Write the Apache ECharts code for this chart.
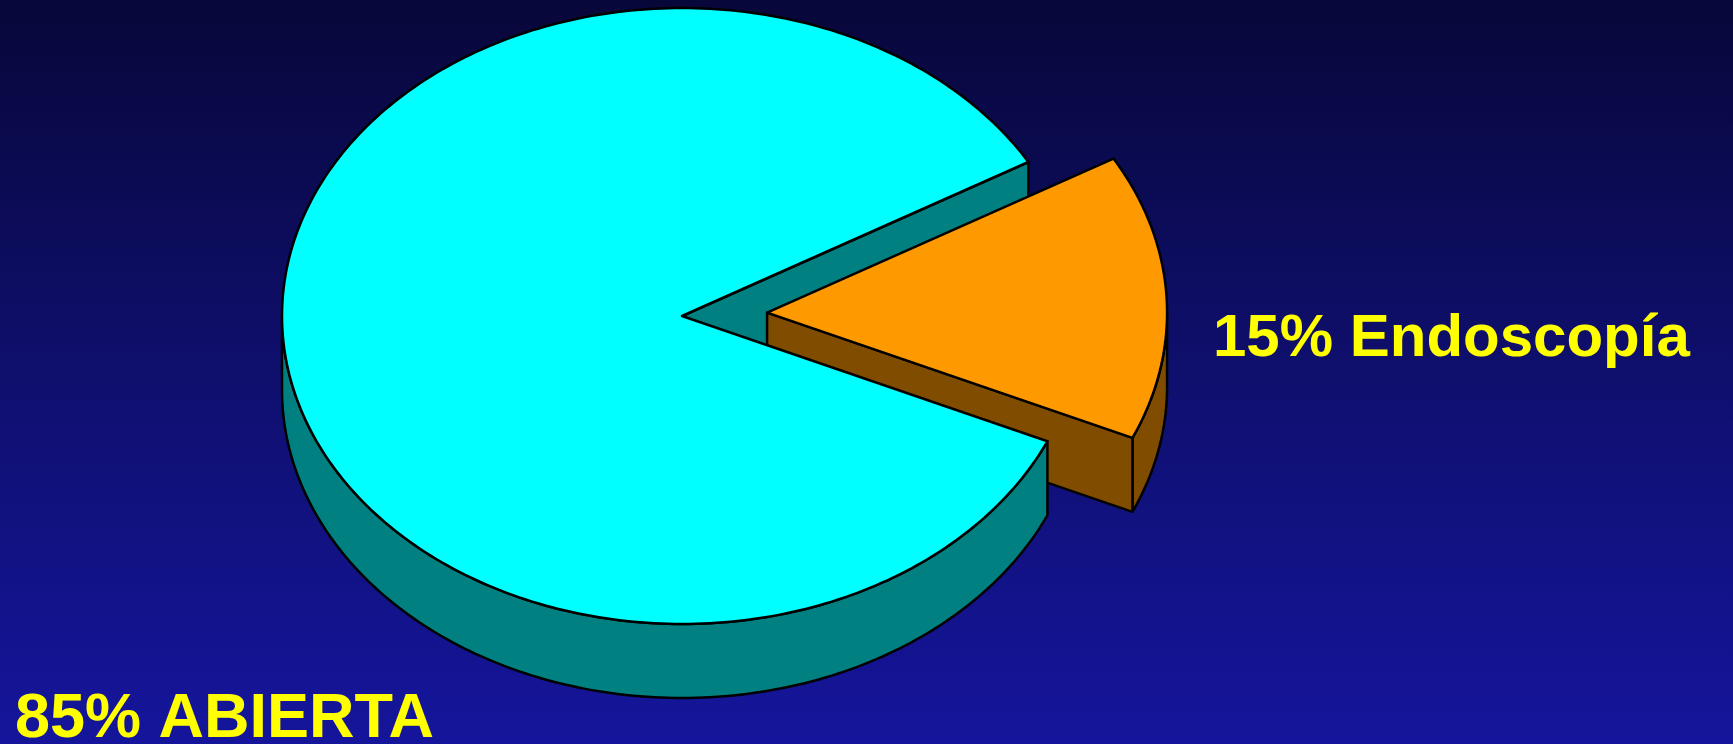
<!DOCTYPE html>
<html>
<head>
<meta charset="utf-8">
<script src="https://cdn.jsdelivr.net/npm/echarts@6/dist/echarts.min.js"></script>
<style>
html,body{margin:0;padding:0;background:#0b0b5a;}
#chart{width:1733px;height:744px;}
</style>
</head>
<body>
<div id="chart"></div>
<script>
// ---- data ----
const categories = ['Endoscopía', 'ABIERTA'];
const values = [15, 85];
const exploded = [true, false];

// ---- styles ----
const topColors = ['#FF9900', '#00FFFF'];
const sideColors = ['#804C00', '#008080'];
const labelFontSizes = [60, 63];

// ---- layout (pixels) ----
const layout = {
  cx: 682, cy: 316, rx: 400, ry: 308, depth: 74,
  startAngle: -30, explode: 0.213,
  labels: [[1213, 339], [15, 720]]
};

const chart = echarts.init(document.getElementById('chart'), null, {renderer: 'canvas'});
const total = values.reduce((a, b) => a + b, 0);
const rad = d => d * Math.PI / 180;

function rim(ccx, ccy, t0, t1, dy) {
  const pts = [];
  const n = Math.max(2, Math.ceil(Math.abs(t1 - t0) / 1));
  for (let k = 0; k <= n; k++) {
    const t = rad(t0 + (t1 - t0) * k / n);
    pts.push([ccx + layout.rx * Math.cos(t), ccy + layout.ry * Math.sin(t) + dy]);
  }
  return pts;
}

function renderItem(params, api) {
  const i = params.dataIndex;
  let cum = 0;
  for (let k = 0; k < i; k++) cum += values[k];
  const a0 = layout.startAngle + cum / total * 360;
  const a1 = a0 + api.value(0) / total * 360;
  const mid = (a0 + a1) / 2;
  let ccx = layout.cx, ccy = layout.cy;
  if (exploded[i]) {
    ccx += layout.explode * layout.rx * Math.cos(rad(mid));
    ccy += layout.explode * layout.ry * Math.sin(rad(mid));
  }
  const D = layout.depth;
  const cutZ = exploded[i] ? 2 : 1;
  const rimZ = exploded[i] ? 2 : 3;
  const topZ = exploded[i] ? 5 : 4;
  const stroke = {stroke: '#000', lineWidth: 2.5, lineJoin: 'round'};
  const children = [];

  // outer rim side faces (front half: angles in [0,180] mod 360)
  for (let k = -1; k <= 1; k++) {
    const s = Math.max(a0, k * 360), e = Math.min(a1, k * 360 + 180);
    if (e > s) {
      const topPts = rim(ccx, ccy, s, e, 0);
      const botPts = rim(ccx, ccy, e, s, D);
      children.push({type: 'polygon', z2: rimZ,
        shape: {points: topPts.concat(botPts)},
        style: Object.assign({fill: sideColors[i]}, stroke)});
    }
  }
  // cut faces
  const edges = [];
  if (Math.cos(rad(a0)) < 0) edges.push(a0);
  if (Math.cos(rad(a1)) > 0) edges.push(a1);
  edges.forEach(a => {
    const px = ccx + layout.rx * Math.cos(rad(a));
    const py = ccy + layout.ry * Math.sin(rad(a));
    children.push({type: 'polygon', z2: cutZ,
      shape: {points: [[ccx, ccy], [px, py], [px, py + D], [ccx, ccy + D]]},
      style: Object.assign({fill: sideColors[i]}, stroke)});
  });
  // top face
  children.push({type: 'polygon', z2: topZ,
    shape: {points: [[ccx, ccy]].concat(rim(ccx, ccy, a0, a1, 0))},
    style: Object.assign({fill: topColors[i]}, stroke)});
  // label
  children.push({type: 'text', z2: 10,
    style: {
      text: api.value(0) + '% ' + categories[i],
      x: layout.labels[i][0], y: layout.labels[i][1],
      fill: '#FFFF00',
      font: 'bold ' + labelFontSizes[i] + 'px "Liberation Sans", Arial, sans-serif',
      align: 'left', verticalAlign: 'middle'
    }});
  return {type: 'group', children};
}

chart.setOption({
  animation: false,
  backgroundColor: new echarts.graphic.LinearGradient(0, 0, 0, 1, [
    {offset: 0, color: '#07073a'},
    {offset: 0.5, color: '#0f0f6e'},
    {offset: 1, color: '#15159c'}
  ]),
  series: [{
    type: 'custom',
    coordinateSystem: 'none',
    renderItem: renderItem,
    data: values.map((v, i) => ({name: categories[i], value: [v]}))
  }]
});
</script>
</body>
</html>
